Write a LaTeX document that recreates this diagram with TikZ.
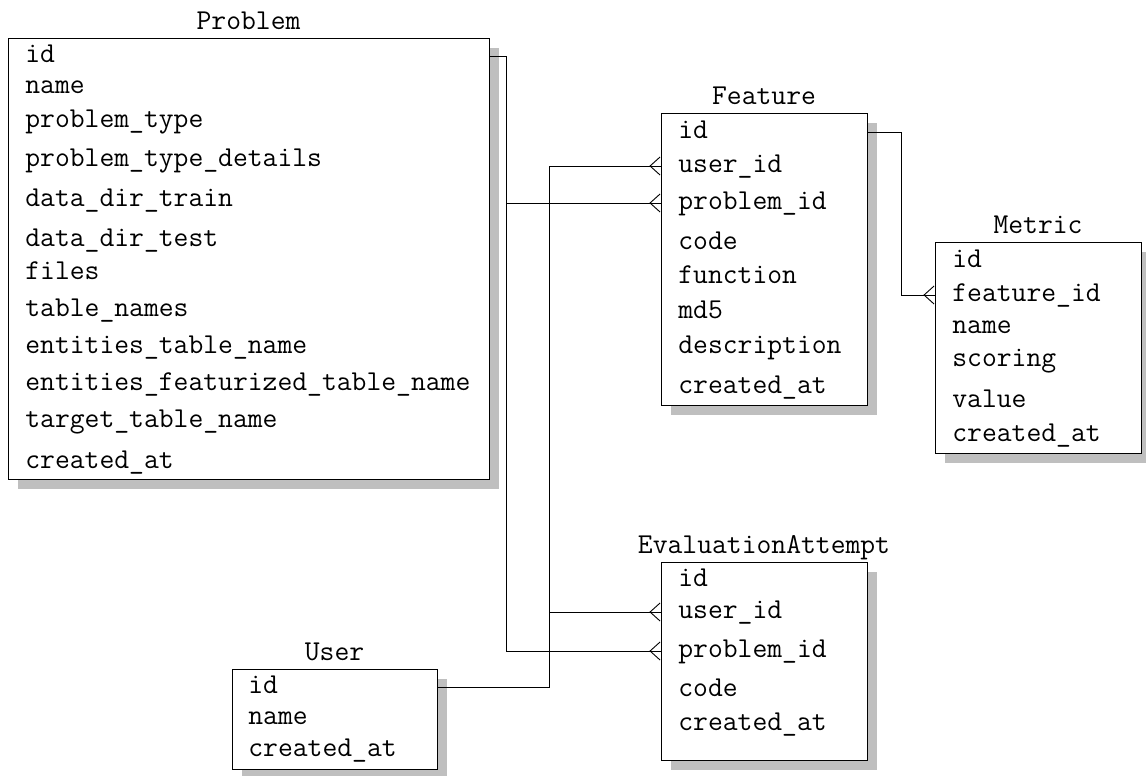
\documentclass[tikz,border=0pt]{standalone}
\usepackage{fontspec}
\usetikzlibrary{arrows.meta,shadows,positioning}

\newcommand\erfont{\ttfamily\fontsize{14.4}{16}\selectfont}

\tikzset{
  tbl/.style={draw, fill=white, line width=0.5pt, inner sep=0pt,
    drop shadow={shadow xshift=5pt, shadow yshift=-5pt, fill=black!25, opacity=1}},
  field/.style={anchor=west, inner sep=0pt, text height=0.75em, text depth=0.15em, font=\erfont},
  tbltitle/.style={inner sep=0pt, text height=0.75em, text depth=0.15em, font=\erfont},
  crow/.style={line width=0.45pt, postaction={draw, -{Straight Barb[reversed, length=5pt, width=9pt]}}}
}

\begin{document}
\begin{tikzpicture}[x=0.5pt, y=-0.5pt]

      \useasboundingbox (0,0) rectangle (1146,776);

      \begin{scope}[every node/.style={tbl}]
        \node[minimum width=240.5pt, minimum height=220.5pt] (problem) at (248.5,258.5) {};
        \node[minimum width=103pt, minimum height=146pt]     (feature) at (764,259)     {};
        \node[minimum width=103pt, minimum height=105.5pt]   (metric)  at (1038,347.5)  {};
        \node[minimum width=103pt, minimum height=99pt]      (evalatt) at (764,661)     {};
        \node[minimum width=102.5pt, minimum height=50pt]    (user)    at (334.5,719)   {};
      \end{scope}

      \begin{scope}[every node/.style={tbltitle}]
        \node[above=2.5pt of problem] (problem-t) {Problem};
        \node[above=2.5pt of feature] (feature-t) {Feature};
        \node[above=2.5pt of metric]  (metric-t)  {Metric};
        \node[above=2.5pt of evalatt] (evalatt-t) {EvaluationAttempt};
        \node[above=2.5pt of user]    (user-t)    {User};
      \end{scope}

      \foreach \y/\n/\t in {56/id/id, 87/name/name, 121/ptype/problem\_type,
          160/pdet/problem\_type\_details, 200/train/data\_dir\_train,
          240/test/data\_dir\_test, 273/files/files, 310/tnames/table\_names,
          347/etab/entities\_table\_name, 384/eftab/entities\_featurized\_table\_name,
          421/ttab/target\_table\_name, 462/cat/created\_at}
        \node[field] (p-\n) at (25,\y) {\t};

      \foreach \y/\n/\t in {132/id/id, 166/uid/user\_id, 203/pid/problem\_id,
          243/code/code, 277/func/function, 312/md5/md5,
          347/desc/description, 387/cat/created\_at}
        \node[field] (f-\n) at (678,\y) {\t};

      \foreach \y/\n/\t in {261/id/id, 295/fid/feature\_id, 327/name/name,
          360/scor/scoring, 401/val/value, 435/cat/created\_at}
        \node[field] (m-\n) at (952,\y) {\t};

      \foreach \y/\n/\t in {580/id/id, 612/uid/user\_id, 651/pid/problem\_id,
          690/code/code, 724/cat/created\_at}
        \node[field] (e-\n) at (678,\y) {\t};

      \foreach \y/\n/\t in {687/id/id, 718/name/name, 750/cat/created\_at}
        \node[field] (u-\n) at (248,\y) {\t};

      \coordinate (pbus) at (506,0);
      \coordinate (ubus) at (549,0);
      \coordinate (fbus) at (901,0);

      \draw[crow] (problem.east |- p-id) -| (pbus |- e-pid) -- (evalatt.west |- e-pid);
      \draw[crow] (pbus |- f-pid) -- (feature.west |- f-pid);
      \draw[crow] (user.east |- u-id) -| (ubus |- f-uid) -- (feature.west |- f-uid);
      \draw[crow] (ubus |- e-uid) -- (evalatt.west |- e-uid);
      \draw[crow] (feature.east |- f-id) -| (fbus |- m-fid) -- (metric.west |- m-fid);

    \end{tikzpicture}
\end{document}
